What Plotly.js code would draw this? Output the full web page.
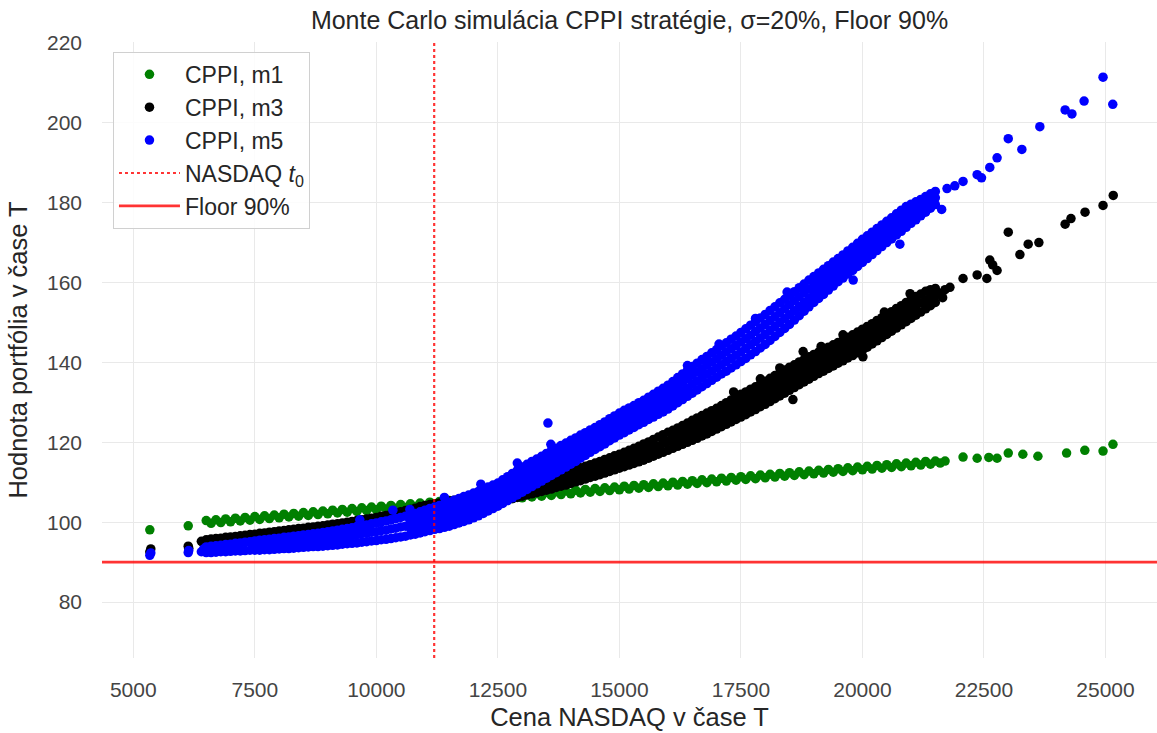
<!DOCTYPE html>
<html>
<head>
<meta charset="utf-8">
<script src="https://cdn.plot.ly/plotly-3.0.1.min.js"></script>
<style>html,body{margin:0;padding:0;background:#fff;}#chart{width:1157px;height:733px;}</style>
</head>
<body>
<div id="chart"></div>
<script>
// ---- values ----
const nasdaqT0 = 11190;      // vertical dotted line (NASDAQ at t0)
const floorLevel = 90;       // horizontal floor line
const xTicks = [5000, 7500, 10000, 12500, 15000, 17500, 20000, 22500, 25000];
const yTicks = [80, 100, 120, 140, 160, 180, 200, 220];

// Each entry: [NASDAQ price at T, portfolio value(s) at T observed at that price]

// CPPI m1 (green)
const m1Cols = [
[5340,98.1],[6130,99.1],
[6500,100.4],[6600,99.7],[6700,100.6],[6800,99.9],[6900,100.8],[7000,100.1],[7100,101.0],[7200,100.3],[7300,101.2],[7400,100.5],
[7500,101.4],[7600,100.7],[7700,101.6],[7800,100.9],[7900,101.8],[8000,101.1],[8100,102.0],[8200,101.3],[8300,102.2],[8400,101.5],
[8500,102.4],[8600,101.7],[8700,102.6],[8800,101.9],[8900,102.8],[9000,102.1],[9100,103.0],[9200,102.3],[9300,103.2],[9400,102.5],
[9500,103.4],[9600,102.7],[9700,103.6],[9800,102.9],[9900,103.8],[10000,103.1],[10100,104.0],[10200,103.3],[10300,104.2],[10400,103.5],
[10500,104.4],[10600,103.7],[10700,104.6],[10800,103.9],[10900,104.8],[11000,104.1],[11100,105.0],[11200,104.3],[11300,105.2],[11400,104.5],
[11500,105.4],[11600,104.7],[11700,105.6],[11800,104.9],[11900,105.8],[12000,105.1],[12100,106.0],[12200,105.3],[12300,106.2],[12400,105.5],
[12500,106.4],[12600,105.7],[12700,106.6],[12800,105.9],[12900,106.8],[13000,106.1],[13100,107.0],[13200,106.3],[13300,107.2],[13400,106.5],
[13500,107.4],[13600,106.7],[13700,107.6],[13800,106.9],[13900,107.8],[14000,107.1],[14100,108.0],[14200,107.3],[14300,108.2],[14400,107.5],
[14500,108.4],[14600,107.7],[14700,108.6],[14800,107.9],[14900,108.8],[15000,108.1],[15100,109.0],[15200,108.3],[15300,109.2],[15400,108.5],
[15500,109.4],[15600,108.7],[15700,109.6],[15800,108.9],[15900,109.8],[16000,109.1],[16100,110.0],[16200,109.3],[16300,110.2],[16400,109.5],
[16500,110.4],[16600,109.7],[16700,110.6],[16800,109.9],[16900,110.8],[17000,110.1],[17100,111.0],[17200,110.3],[17300,111.2],[17400,110.5],
[17500,111.4],[17600,110.7],[17700,111.6],[17800,110.9],[17900,111.8],[18000,111.1],[18100,112.0],[18200,111.3],[18300,112.2],[18400,111.5],
[18500,112.4],[18600,111.7],[18700,112.6],[18800,111.9],[18900,112.8],[19000,112.1],[19100,113.0],[19200,112.3],[19300,113.2],[19400,112.5],
[19500,113.4],[19600,112.7],[19700,113.6],[19800,112.9],[19900,113.8],[20000,113.1],[20100,114.0],[20200,113.3],[20300,114.2],[20400,113.5],
[20500,114.4],[20600,113.7],[20700,114.6],[20800,113.9],[20900,114.8],[21000,114.1],[21100,115.0],[21200,114.3],[21300,115.2],[21400,114.5],
[21500,115.3],[21600,114.8],[21700,115.3],
[22070,116.3],[22360,116.0],[22600,116.2],[22770,116.0],[23000,117.3],[23300,117.0],[23610,116.5],
[24200,117.3],[24575,118.0],[24950,117.8],[25154,119.5]
];

// CPPI m3 (black)
const m3Cols = [
[5340,92.6],[5360,93.3],[6130,94.0],[6140,93.5],[6400,95.2],[6450,94.6],
[6500,95.6,94.4],[6600,95.8,94.5],[6700,95.9],[6800,96.0],[6900,96.2],[7000,96.3],[7100,96.4],[7200,96.6],[7300,96.7],[7400,96.9],
[7500,97.0],[7600,97.2],[7700,97.3],[7800,97.5],[7900,97.6],[8000,97.8],[8100,97.9],[8200,98.1],[8300,98.2],[8400,98.4],
[8500,98.5],[8600,98.7],[8700,98.8],[8800,99.0],[8900,99.1],[9000,99.3],[9100,99.5],[9200,99.6],[9300,99.8],[9400,100.0],
[9500,100.2],[9600,100.4],[9700,100.6],[9800,100.8],[9900,101.0],[10000,101.2],[10100,101.5],[10200,101.7],[10300,102.0],[10400,102.3],
[10500,102.6],[10600,102.9],[10700,103.2],[10800,103.5],[10900,103.9],[11000,104.2],[11100,104.4],[11200,104.6],[11300,104.8],[11400,105.0],
[11500,105.3],[11600,105.5],[11700,105.8],[11800,106.0],[11900,106.3],[12000,106.5],[12100,106.8],[12200,107.0],[12300,107.3],[12400,107.5],
[12500,105.0,106.4,107.8],[12600,105.3,106.7,108.1],[12700,105.6,107.0,108.5],[12800,105.9,107.3,108.8],[12900,106.2,107.7,109.2],
[13000,106.5,108.0,109.5],[13100,106.8,108.3,109.8],[13200,107.1,108.6,110.2],[13300,107.4,109.0,110.5],[13400,107.7,109.3,110.8],
[13500,108.0,109.6,111.2],[13600,108.3,109.9,111.5],[13700,108.7,110.2,111.8],[13800,109.0,110.6,112.1],[13900,109.3,110.9,112.4],
[14000,109.7,111.2,112.8],[14100,110.1,111.6,113.2],[14200,110.4,112.0,113.6],[14300,110.8,112.4,114.0],[14400,111.2,112.8,114.4],
[14500,111.5,113.2,114.8],[14600,111.9,113.6,115.2],[14700,112.3,114.0,115.7],[14800,112.7,114.4,116.1],[14900,113.1,114.8,116.6],
[15000,113.5,115.3,117.0],[15100,113.9,115.7,117.5],[15200,114.3,116.1,118.0],[15300,114.7,116.6,118.5],[15400,115.1,117.1,119.0],
[15500,115.5,117.5,119.6],[15600,116.0,118.0,120.1],[15700,116.5,118.6,120.7],[15800,117.0,119.1,121.3],[15900,117.5,119.7,121.9],
[16000,118.0,120.2,122.5],
[16100,118.5,120.0,121.5,123.0],[16200,119.0,120.5,122.1,123.6],[16300,119.5,121.1,122.6,124.2],[16400,120.0,121.6,123.2,124.8],
[16500,120.5,122.2,123.8,125.5],[16600,121.0,122.7,124.4,126.1],[16700,121.6,123.3,125.0,126.7],[16800,122.1,123.8,125.6,127.3],
[16900,122.7,124.4,126.2,127.9],[17000,123.3,125.0,126.8,128.5],[17100,123.9,125.7,127.4,129.2],[17200,124.5,126.3,128.1,129.9],
[17300,125.1,126.9,128.8,130.6],[17400,125.7,127.5,129.4,131.3],[17500,126.3,128.2,130.1,132.0],[17600,126.9,128.8,130.7,132.6],
[17700,127.6,129.5,131.4,133.3],[17800,128.2,130.1,132.0,133.9],[17900,128.9,130.8,132.7,134.6],[18000,129.5,131.4,133.4,135.3],
[18100,130.2,132.1,134.1,136.0],[18200,130.9,132.8,134.8,136.7],[18300,131.6,133.5,135.5,137.4],[18400,132.3,134.2,136.2,138.1],
[18500,133.0,134.9,136.9,138.8],[18600,133.7,135.6,137.5,139.4],[18700,134.4,136.3,138.2,140.1],[18800,135.1,137.0,138.8,140.7],
[18900,135.8,137.7,139.5,141.4],[19000,136.5,138.3,140.1,142.0],[19100,137.2,139.0,140.8,142.6],[19200,137.8,139.6,141.4,143.2],
[19300,138.5,140.3,142.0,143.8],[19400,139.1,140.9,142.6,144.4],[19500,139.8,141.5,143.3,145.0],[19600,140.4,142.1,143.9,145.6],
[19700,141.1,142.8,144.6,146.3],[19800,141.7,143.4,145.2,146.9],[19900,142.4,144.1,145.9,147.6],[20000,143.0,144.8,146.6,148.3],
[20100,143.8,145.5,147.3,149.0],[20200,144.6,146.3,148.0,149.7],[20300,145.4,147.1,148.8,150.5],[20400,146.2,147.9,149.5,151.2],
[20500,147.0,148.7,150.3,152.0],[20600,147.8,149.4,151.1,152.7],[20700,148.6,150.2,151.9,153.5],[20800,149.4,151.0,152.6,154.2],
[20900,150.2,151.8,153.4,155.0],[21000,151.0,152.6,154.1,155.7],[21100,151.8,153.4,154.9,156.5],
[21200,152.6,154.9,157.1],[21300,153.4,155.6,157.8],[21400,154.2,156.3,158.2],[21500,155.0,156.8,158.5],[21600,157.3],
[17350,132.6],[17900,135.9],[18300,138.6],[18780,142.7],[18570,130.7],[19150,144.0],[19600,146.9],[20010,141.4],[20450,152.6],[20980,157.2],
[21700,158.2],[21650,156.2],
[21800,158.8],[22070,161.0],[22360,161.9],[22560,161.0],[22620,165.6],[22680,164.4],[22770,163.0],[23000,172.6],[23240,167.0],
[23410,169.6],[23630,170.0],[24170,174.6],[24290,176.0],[24580,177.6],[24950,179.3],[25160,181.8]
];

// CPPI m5 (blue)
const m5Cols = [
[5340,91.7],[5360,92.3],[6130,92.4],[6140,92.9],[6400,92.6],[6450,93.3],
[6500,92.4,93.8],[6600,92.4,94.0],[6700,92.5,94.1],[6800,92.6,94.2],[6900,92.6,94.4],[7000,92.7,94.5],[7100,92.8,94.7],[7200,92.8,94.8],
[7300,92.9,95.0],[7400,93.0,95.1],
[7500,93.0,94.2,95.3],[7600,93.0,94.3,95.5],[7700,93.1,94.4,95.6],[7800,93.1,94.4,95.7],[7900,93.2,94.5,95.9],[8000,93.3,94.7,96.0],
[8100,93.4,94.8,96.2],[8200,93.4,94.9,96.3],[8300,93.5,95.0,96.5],[8400,93.6,95.1,96.6],[8500,93.7,95.3,96.8],[8600,93.8,95.4,96.9],
[8700,93.9,95.5,97.1],[8800,93.9,95.6,97.2],[8900,94.0,95.7,97.4],[9000,94.1,95.9,97.6],[9100,94.2,96.0,97.8],[9200,94.3,96.2,98.0],
[9300,94.5,96.4,98.2],[9400,94.6,96.5,98.4],[9500,94.7,96.7,98.6],[9600,94.8,96.9,98.9],[9700,95.0,97.1,99.1],[9800,95.1,97.2,99.3],
[9900,95.3,97.5,99.6],[10000,95.4,97.6,99.8],[10100,95.6,97.9,100.1],[10200,95.7,98.0,100.3],[10300,95.9,98.3,100.6],[10400,96.1,98.5,100.9],
[10500,96.3,98.8,101.2],[10600,96.5,99.0,101.5],
[10700,96.8,98.5,100.2,101.9],[10800,97.0,98.8,100.5,102.2],[10900,97.3,99.1,100.8,102.6],[11000,97.6,99.4,101.2,103.0],
[11100,97.9,99.7,101.6,103.4],[11200,98.2,100.0,102.0,103.8],[11300,98.4,100.3,102.3,104.2],[11400,98.7,100.7,102.7,104.6],
[11500,99.0,101.0,103.0,105.0],[11600,99.4,101.4,103.5,105.5],[11700,99.8,101.8,103.9,105.9],[11800,100.2,102.3,104.3,106.4],
[11900,100.6,102.7,104.7,106.8],[12000,101.1,103.2,105.2,107.3],[12100,101.6,103.6,105.7,107.7],[12200,102.2,104.2,106.3,108.3],
[12300,102.8,104.8,106.8,108.8],[12400,103.4,105.4,107.4,109.3],[12500,104.0,105.9,107.9,109.8],[12600,104.7,106.7,108.7,110.6],
[12700,105.4,107.4,109.4,111.4],[12800,106.1,108.2,110.2,112.2],[12900,106.8,108.9,110.9,113.0],[13000,107.5,109.6,111.7,113.8],
[13100,108.2,110.3,112.4,114.5],[13200,108.9,111.0,113.1,115.2],[13300,109.6,111.7,113.7,115.8],[13400,110.3,112.4,114.4,116.5],
[13500,111.0,113.1,115.1,117.2],[13600,111.7,113.8,115.8,117.9],[13700,112.4,114.4,116.5,118.5],[13800,113.1,115.1,117.2,119.2],
[13900,113.8,115.8,117.8,119.8],[14000,114.5,116.5,118.5,120.5],[14100,115.2,117.2,119.1,121.1],[14200,116.0,117.9,119.8,121.8],
[14300,116.7,118.6,120.5,122.4],[14400,117.5,119.3,121.2,123.1],[14500,118.2,120.0,121.9,123.7],[14600,118.9,120.7,122.6,124.4],
[14700,119.6,121.4,123.3,125.1],[14800,120.4,122.2,124.1,125.9],[14900,121.1,122.9,124.8,126.6],[15000,121.8,123.6,125.5,127.3],
[15100,122.4,124.3,126.1,128.0],[15200,123.1,124.9,126.8,128.6],[15300,123.7,125.5,127.4,129.2],[15400,124.4,126.2,128.1,129.9],
[15500,125.0,126.8,128.7,130.5],[15600,125.7,127.5,129.4,131.3],[15700,126.3,128.2,130.1,132.0],[15800,127.0,128.9,130.8,132.8],
[15900,127.6,129.6,131.5,133.5],[16000,128.3,130.3,132.3,134.3],[16100,129.1,131.1,133.2,135.2],[16200,129.9,132.0,134.1,136.2],
[16300,130.7,132.8,135.0,137.1],[16400,131.5,133.6,135.9,138.0],[16500,132.3,134.5,136.8,139.0],[16600,133.1,135.3,137.6,139.8],
[16700,133.9,136.2,138.4,140.7],[16800,134.7,137.0,139.3,141.5],[16900,135.5,137.8,140.1,142.4],[17000,136.3,138.6,140.9,143.2],
[17100,137.1,139.4,141.8,144.1],[17200,137.8,140.2,142.6,144.9],[17300,138.6,141.0,143.4,145.8],[17400,139.4,141.8,144.2,146.6],
[17500,140.2,142.6,145.1,147.5],[17600,141.0,143.5,145.9,148.4],[17700,141.9,144.4,146.8,149.3],[17800,142.7,145.2,147.7,150.2],
[17900,143.6,146.1,148.6,151.1],[18000,144.5,147.0,149.5,152.0],[18100,145.5,148.0,150.5,153.0],[18200,146.5,149.0,151.4,153.9],
[18300,147.5,150.0,152.4,154.9],[18400,148.5,150.9,153.4,155.8],[18500,149.5,151.9,154.4,156.8],[18600,150.6,152.9,155.4,157.7],
[18700,151.7,154.0,156.4,158.7],[18800,152.8,155.0,157.4,159.6],[18900,153.9,156.1,158.4,160.6],[19000,155.0,157.1,159.3,161.5],
[19100,156.0,158.1,160.3,162.4],[19200,157.0,159.1,161.2,163.3],[19300,158.1,160.1,162.2,164.2],[19400,159.1,161.1,163.1,165.1],
[19500,160.2,162.1,164.1,166.0],[19600,161.1,163.0,165.0,166.9],[19700,162.1,164.0,166.0,167.9],[19800,163.0,164.9,166.9,168.8],
[19900,164.0,165.9,167.9,169.8],[20000,165.0,166.9,168.8,170.8],[20100,166.0,167.9,169.8,171.7],[20200,167.0,168.8,170.7,172.6],
[20300,168.0,169.8,171.7,173.5],[20400,169.0,170.8,172.6,174.4],[20500,170.0,171.8,173.5,175.3],[20600,170.9,172.7,174.5,176.2],
[20700,171.9,173.7,175.4,177.2],[20800,172.8,174.6,176.3,178.1],[20900,173.8,175.5,177.3,179.0],[21000,174.8,176.4,178.0,179.6],
[21100,175.7,177.2,178.7,180.2],
[21200,176.7,178.7,180.8],[21300,177.6,179.6,181.5],[21400,178.6,180.4,182.2],[21500,179.5,181.2,182.8],
[13530,124.8],[13590,119.5],[9660,100.6],[10340,103.0],[10690,103.2],[11400,106.2],[12150,109.5],[12900,114.8],
[16400,139.2],[17050,144.6],[17800,151.0],[18450,157.6],[19810,160.6],[20770,169.6],[21630,178.3],
[21740,183.5],[21900,184.2],[22070,185.3],[22360,187.0],[22450,186.2],[22620,188.8],[22770,191.2],[23000,196.0],
[23280,193.3],[23650,199.0],[24170,203.2],[24310,202.2],[24560,205.4],[24950,211.4],[25150,204.6]
];

// ---- drawing ----
const xRange = [4356, 26060];
const yRange = [66, 220.2];
const FONT = 'Liberation Sans, Arial, sans-serif';

function scatterTrace(cols, name, color) {
  const xs = [], ys = [];
  cols.forEach(c => { for (let i = 1; i < c.length; i++) { xs.push(c[0]); ys.push(c[i]); } });
  return {
    type: 'scatter', mode: 'markers', name: name, x: xs, y: ys,
    marker: {color: color, size: 9.5, line: {width: 0}},
    hoverinfo: 'x+y'
  };
}

const traces = [
  scatterTrace(m1Cols, 'CPPI, m1', '#008000'),
  scatterTrace(m3Cols, 'CPPI, m3', '#000000'),
  scatterTrace(m5Cols, 'CPPI, m5', '#0000ff'),
  {type: 'scatter', mode: 'lines', name: 'NASDAQ <i>t</i><sub>0</sub>',
   x: [nasdaqT0, nasdaqT0], y: yRange,
   line: {color: 'rgba(255,0,0,0.8)', width: 2.2, dash: 'dot'}},
  {type: 'scatter', mode: 'lines', name: 'Floor 90%',
   x: xRange, y: [floorLevel, floorLevel],
   line: {color: 'rgba(255,0,0,0.8)', width: 2.6}}
];

const axisCommon = {
  showgrid: true, gridcolor: '#e9e9e9', gridwidth: 1,
  zeroline: false, showline: false, ticks: '',
  tickfont: {family: FONT, size: 21, color: '#444444'}
};

const layout = {
  width: 1157, height: 733,
  margin: {l: 102, r: 0, t: 42, b: 75},
  paper_bgcolor: '#ffffff', plot_bgcolor: '#ffffff',
  font: {family: FONT, color: '#262626'},
  showlegend: true,
  title: {
    text: 'Monte Carlo simulácia CPPI stratégie, σ=20%, Floor 90%',
    font: {family: FONT, size: 25, color: '#262626'},
    x: 0.5, xref: 'paper', y: 1 - 20/733, yref: 'container', yanchor: 'middle'
  },
  xaxis: Object.assign({}, axisCommon, {
    range: xRange, tickvals: xTicks, tickformat: 'd', ticklabelstandoff: 17,
    title: {text: 'Cena NASDAQ v čase T', font: {family: FONT, size: 25.5, color: '#262626'}, standoff: 8}
  }),
  yaxis: Object.assign({}, axisCommon, {
    range: yRange, tickvals: yTicks, tickformat: 'd', ticklabelstandoff: 19,
    title: {text: 'Hodnota portfólia v čase T', font: {family: FONT, size: 25.5, color: '#262626'}, standoff: 12}
  }),
  legend: {
    x: 0.0104, y: 0.984, xanchor: 'left', yanchor: 'top',
    bgcolor: 'rgba(255,255,255,0.85)', bordercolor: '#d0d0d0', borderwidth: 1,
    font: {family: FONT, size: 23, color: '#262626'},
    itemwidth: 61, entrywidth: 205, entrywidthmode: 'pixels'
  }
};

Plotly.newPlot('chart', traces, layout, {displayModeBar: false, staticPlot: true});
</script>
</body>
</html>
